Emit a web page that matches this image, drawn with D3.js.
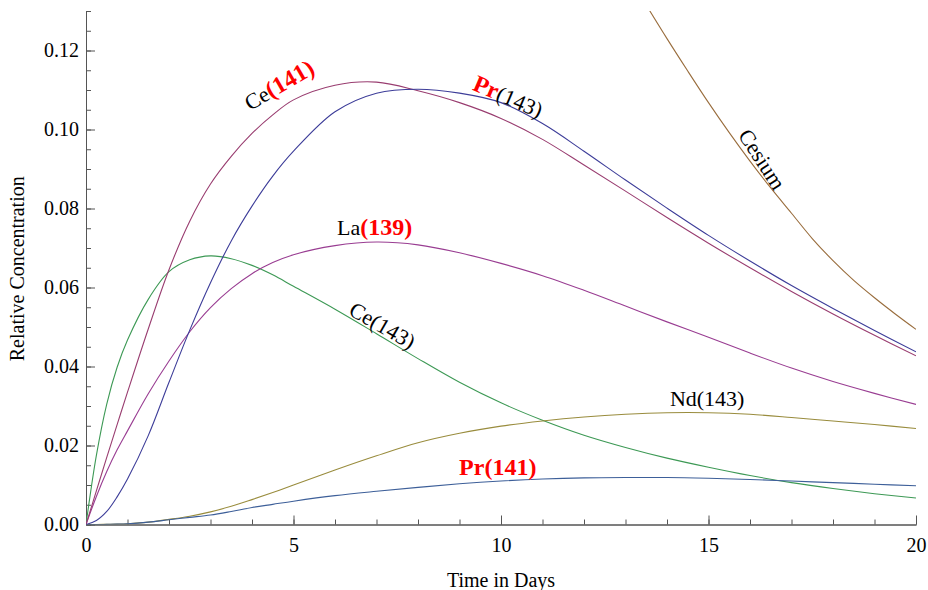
<!DOCTYPE html>
<html lang="en">
  <head>
    <meta charset="UTF-8" />
    <title>Relative Concentration vs Time in Days</title>
    <script src="https://cdnjs.cloudflare.com/ajax/libs/d3/7.8.5/d3.min.js"></script>
    <style>
      body {
        margin: 0;
        background: #fff;
      }
      svg {
        display: block;
        font-family: "Liberation Serif", "DejaVu Serif", serif;
      }
      .axis path,
      .axis line {
        stroke: #555;
        stroke-width: 1px;
      }
      .axis text {
        fill: #000;
        font-size: 20px;
        font-family: "Liberation Serif", serif;
      }
      .curve {
        fill: none;
        stroke-width: 1.1px;
      }
      .lbl {
        font-size: 22px;
        fill: #000;
      }
      .red {
        fill: #ff0000;
        font-weight: bold;
        font-size: 24px;
      }
    </style>
  </head>
  <body>
    <script>
      // 时间轴（天）
      const days = [0, 0.25, 0.5, 0.75, 1, 1.5, 2, 2.5, 3, 3.5, 4, 4.5, 5, 6, 7, 8, 9, 10,
        11, 12, 13, 14, 15, 16, 17, 18, 19, 20];

      // 各核素相对浓度
      const ce141 = [0, 0.0085, 0.017, 0.0253, 0.0335, 0.0495, 0.0645, 0.0768, 0.0862, 0.0932,
        0.099, 0.1037, 0.1075, 0.1112, 0.112, 0.1098, 0.1068, 0.1028, 0.0975, 0.091, 0.0844,
        0.0777, 0.0712, 0.065, 0.059, 0.0533, 0.0479, 0.0427];
      const pr143 = [0, 0.001, 0.0033, 0.007, 0.0115, 0.0225, 0.036, 0.0492, 0.0612, 0.0718,
        0.0806, 0.0882, 0.0945, 0.1045, 0.1092, 0.1102, 0.1092, 0.1068, 0.1015, 0.0945, 0.0872,
        0.0801, 0.0732, 0.0667, 0.0605, 0.0547, 0.0491, 0.0437];
      const la139 = [0, 0.0071, 0.0134, 0.0189, 0.0237, 0.0331, 0.0414, 0.0488, 0.0549, 0.0597,
        0.0635, 0.0663, 0.0683, 0.0706, 0.0715, 0.0708, 0.0688, 0.0661, 0.063, 0.0593, 0.0553,
        0.0513, 0.0474, 0.0434, 0.0396, 0.0362, 0.0332, 0.0304];
      const ce143 = [0, 0.0175, 0.0305, 0.0398, 0.0467, 0.057, 0.064, 0.067, 0.068, 0.0673,
        0.0656, 0.0632, 0.0603, 0.0545, 0.0483, 0.042, 0.036, 0.0308, 0.0264, 0.0226, 0.0195,
        0.0168, 0.0145, 0.0124, 0.0106, 0.0091, 0.0078, 0.0067];
      const nd143 = [0, 0, 0.00005, 0.0001, 0.0002, 0.0006, 0.0013, 0.0021, 0.0032, 0.0046,
        0.0063, 0.0081, 0.01, 0.0138, 0.0174, 0.0207, 0.0231, 0.0249, 0.0262, 0.0272, 0.0279,
        0.0283, 0.0283, 0.0279, 0.0271, 0.0262, 0.0253, 0.0243];
      const pr141 = [0, 0, 0.00003, 0.0001, 0.0002, 0.0006, 0.0012, 0.0018, 0.0024, 0.0033,
        0.0043, 0.0051, 0.0059, 0.0073, 0.0084, 0.0094, 0.0103, 0.011, 0.0115, 0.0118, 0.0119,
        0.0119, 0.0117, 0.0114, 0.011, 0.0106, 0.0102, 0.0098];

      // 铯：只在右上角出现
      const cesiumDays = [13.5, 14, 14.5, 15, 15.5, 16, 16.5, 17, 17.5, 18, 18.5, 19, 19.5, 20];
      const cesium = [0.1315, 0.123, 0.1148, 0.1068, 0.0992, 0.092, 0.0852, 0.0788, 0.0724,
        0.0668, 0.0618, 0.0574, 0.0533, 0.0494];

      const xTicks = [0, 5, 10, 15, 20];
      const yTicks = [0, 0.02, 0.04, 0.06, 0.08, 0.1, 0.12];

      const series = [
        { days: days, vals: ce143, color: "#3d9955" },
        { days: days, vals: nd143, color: "#998c3d" },
        { days: days, vals: pr141, color: "#3d5f99" },
        { days: days, vals: la139, color: "#993d92" },
        { days: days, vals: ce141, color: "#993d70" },
        { days: days, vals: pr143, color: "#3d3d99" },
        { days: cesiumDays, vals: cesium, color: "#996d3d" }
      ];

      const width = 928,
        height = 590;

      const x = d3.scaleLinear().domain([0, 20]).range([86, 916]);
      const y = d3.scaleLinear().domain([0, 0.13]).range([524.5, 11]);

      const svg = d3
        .select("body")
        .append("svg")
        .attr("width", width)
        .attr("height", height);

      svg
        .append("clipPath")
        .attr("id", "plot-clip")
        .append("rect")
        .attr("x", x(0))
        .attr("y", y(0.13))
        .attr("width", x(20) - x(0))
        .attr("height", y(0) - y(0.13));

      // 次刻度
      svg
        .append("g")
        .attr("class", "axis")
        .attr("transform", `translate(0,${y(0)})`)
        .call(
          d3.axisBottom(x)
            .tickValues(d3.range(0, 21))
            .tickSize(-5)
            .tickSizeOuter(0)
            .tickFormat("")
        );
      svg
        .append("g")
        .attr("class", "axis")
        .attr("transform", `translate(${x(0)},0)`)
        .call(
          d3.axisLeft(y)
            .tickValues(d3.range(0, 27).map(i => i * 0.005))
            .tickSize(-5)
            .tickSizeOuter(0)
            .tickFormat("")
        );

      // 主刻度
      svg
        .append("g")
        .attr("class", "axis")
        .attr("transform", `translate(0,${y(0)})`)
        .call(
          d3.axisBottom(x)
            .tickValues(xTicks)
            .tickSize(-9)
            .tickSizeOuter(0)
            .tickPadding(13)
            .tickFormat(d3.format("d"))
        );
      svg
        .append("g")
        .attr("class", "axis")
        .attr("transform", `translate(${x(0)},0)`)
        .call(
          d3.axisLeft(y)
            .tickValues(yTicks)
            .tickSize(-9)
            .tickSizeOuter(0)
            .tickPadding(7)
            .tickFormat(d3.format(".2f"))
        );

      const line = d3
        .line()
        .x(d => x(d[0]))
        .y(d => y(d[1]))
        .curve(d3.curveCatmullRom.alpha(0.5));

      svg
        .append("g")
        .attr("clip-path", "url(#plot-clip)")
        .selectAll("path")
        .data(series)
        .join("path")
        .attr("class", "curve")
        .attr("stroke", d => d.color)
        .attr("d", d => line(d.days.map((t, i) => [t, d.vals[i]])));

      // 坐标轴标题
      svg
        .append("text")
        .attr("x", x(10))
        .attr("y", 587)
        .attr("text-anchor", "middle")
        .attr("font-size", 20)
        .text("Time in Days");
      svg
        .append("text")
        .attr("transform", `translate(24,${(y(0) + y(0.13)) / 2 + 1}) rotate(-90)`)
        .attr("text-anchor", "middle")
        .attr("font-size", 20)
        .text("Relative Concentration");

      // 曲线标注：[时间, 浓度, 角度, 锚点, 片段]
      const labels = [
        { t: 3.95, v: 0.1047, rot: -30, anchor: "start", parts: [["Ce", false], ["(141)", true]] },
        { t: 9.29, v: 0.1101, rot: 23, anchor: "start", parts: [["Pr", true], ["(143)", false]] },
        { t: 6.05, v: 0.0733, rot: 0, anchor: "start", parts: [["La", false], ["(139)", true]] },
        { t: 6.3, v: 0.0533, rot: 30, anchor: "start", parts: [["Ce(143)", false]] },
        { t: 14.07, v: 0.0299, rot: 0, anchor: "start", parts: [["Nd(143)", false]] },
        { t: 8.99, v: 0.0125, rot: 0, anchor: "start", parts: [["Pr(141)", true]] },
        { t: 16.14, v: 0.0914, rot: 57, anchor: "middle", parts: [["Cesium", false]] }
      ];

      const lbl = svg
        .append("g")
        .selectAll("text")
        .data(labels)
        .join("text")
        .attr("class", "lbl")
        .attr("text-anchor", d => d.anchor)
        .attr("transform", d => `translate(${x(d.t)},${y(d.v)}) rotate(${d.rot})`);

      lbl
        .selectAll("tspan")
        .data(d => d.parts)
        .join("tspan")
        .attr("class", d => (d[1] ? "red" : null))
        .text(d => d[0]);
    </script>
  </body>
</html>
